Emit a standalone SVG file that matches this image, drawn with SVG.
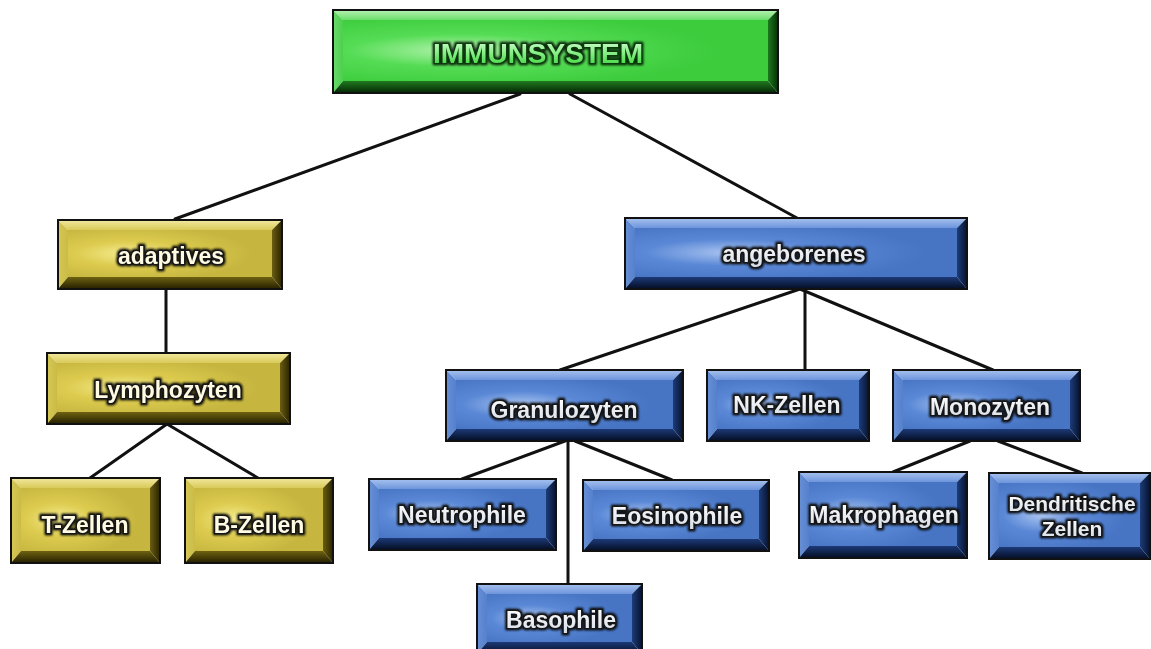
<svg xmlns="http://www.w3.org/2000/svg" width="1151" height="649" viewBox="0 0 1151 649">
<defs>
<radialGradient id="gFace" cx="0.28" cy="0.5" r="0.6"><stop offset="0" stop-color="#b6f4b0"/><stop offset="0.45" stop-color="#55dc55"/><stop offset="1" stop-color="#3ccc3c"/></radialGradient>
<linearGradient id="gTop" x1="0" y1="0" x2="0" y2="1"><stop offset="0" stop-color="#b8f2b4"/><stop offset="1" stop-color="#6ade6a"/></linearGradient>
<linearGradient id="gBot" x1="0" y1="0" x2="0" y2="1"><stop offset="0" stop-color="#1f7a1f"/><stop offset="1" stop-color="#052605"/></linearGradient>
<linearGradient id="gLeft" x1="0" y1="0" x2="1" y2="0"><stop offset="0" stop-color="#6bd86b"/><stop offset="1" stop-color="#4cd04c"/></linearGradient>
<linearGradient id="gRight" x1="0" y1="0" x2="1" y2="0"><stop offset="0" stop-color="#1c7a1c"/><stop offset="1" stop-color="#073007"/></linearGradient>
<linearGradient id="gTxt" x1="0" y1="0" x2="0" y2="1"><stop offset="0" stop-color="#dcffdc"/><stop offset="0.45" stop-color="#8cf08c"/><stop offset="1" stop-color="#2fd02f"/></linearGradient>

<radialGradient id="yFace" cx="0.3" cy="0.5" r="0.6"><stop offset="0" stop-color="#f6ec90"/><stop offset="0.45" stop-color="#dccb4e"/><stop offset="1" stop-color="#c6b640"/></radialGradient>
<linearGradient id="yTop" x1="0" y1="0" x2="0" y2="1"><stop offset="0" stop-color="#f2e9a0"/><stop offset="1" stop-color="#d9ca58"/></linearGradient>
<linearGradient id="yBot" x1="0" y1="0" x2="0" y2="1"><stop offset="0" stop-color="#6e6210"/><stop offset="1" stop-color="#241e00"/></linearGradient>
<linearGradient id="yLeft" x1="0" y1="0" x2="1" y2="0"><stop offset="0" stop-color="#d6c856"/><stop offset="1" stop-color="#cbbb46"/></linearGradient>
<linearGradient id="yRight" x1="0" y1="0" x2="1" y2="0"><stop offset="0" stop-color="#6a5e10"/><stop offset="1" stop-color="#2a2300"/></linearGradient>

<radialGradient id="bFace" cx="0.3" cy="0.5" r="0.6"><stop offset="0" stop-color="#aac4f0"/><stop offset="0.45" stop-color="#5a88d6"/><stop offset="1" stop-color="#4775c4"/></radialGradient>
<linearGradient id="bTop" x1="0" y1="0" x2="0" y2="1"><stop offset="0" stop-color="#a8c2ee"/><stop offset="1" stop-color="#6d95dc"/></linearGradient>
<linearGradient id="bBot" x1="0" y1="0" x2="0" y2="1"><stop offset="0" stop-color="#1c3a78"/><stop offset="1" stop-color="#040c22"/></linearGradient>
<linearGradient id="bLeft" x1="0" y1="0" x2="1" y2="0"><stop offset="0" stop-color="#6890d6"/><stop offset="1" stop-color="#5580cc"/></linearGradient>
<linearGradient id="bRight" x1="0" y1="0" x2="1" y2="0"><stop offset="0" stop-color="#1d3c7a"/><stop offset="1" stop-color="#06122e"/></linearGradient>
<linearGradient id="tTxt" x1="0" y1="0" x2="0" y2="1"><stop offset="0" stop-color="#ffffff"/><stop offset="1" stop-color="#d6dde8"/></linearGradient>
<filter id="glow" x="-10%" y="-40%" width="120%" height="180%">
<feMorphology in="SourceAlpha" operator="dilate" radius="1.2" result="d"/>
<feGaussianBlur in="d" stdDeviation="1.3" result="b"/>
<feFlood flood-color="#000" flood-opacity="0.85"/>
<feComposite in2="b" operator="in" result="s"/>
<feMerge><feMergeNode in="s"/><feMergeNode in="SourceGraphic"/></feMerge>
</filter>
</defs>
<style>
.edge{stroke:#111;stroke-width:3;fill:none;stroke-linecap:round}
.bd{fill:none;stroke:#111;stroke-width:2}
.g .top{fill:url(#gTop)}.g .bot{fill:url(#gBot)}.g .lf{fill:url(#gLeft)}.g .rt{fill:url(#gRight)}.g .face{fill:url(#gFace)}
.y .top{fill:url(#yTop)}.y .bot{fill:url(#yBot)}.y .lf{fill:url(#yLeft)}.y .rt{fill:url(#yRight)}.y .face{fill:url(#yFace)}
.b .top{fill:url(#bTop)}.b .bot{fill:url(#bBot)}.b .lf{fill:url(#bLeft)}.b .rt{fill:url(#bRight)}.b .face{fill:url(#bFace)}
text{font-family:"Liberation Sans",Arial,sans-serif;font-weight:bold;text-anchor:middle;paint-order:stroke;stroke-linejoin:round;filter:url(#glow)}
.lbl{font-size:23px;fill:url(#tTxt);stroke:#141414;stroke-width:3}
.y .lbl{fill:#fffbe2}
.sm{font-size:21px}
.ttl{font-size:28px;fill:url(#gTxt);stroke:#0a3a0a;stroke-width:2.5}
</style>

<g id="connectors">
<line class="edge" x1="520" y1="94" x2="175" y2="219"/>
<line class="edge" x1="570" y1="94" x2="797" y2="218"/>
<line class="edge" x1="166" y1="289" x2="166" y2="353"/>
<line class="edge" x1="167" y1="424" x2="90" y2="478"/>
<line class="edge" x1="167" y1="424" x2="258" y2="478"/>
<line class="edge" x1="800" y1="289" x2="560" y2="370"/>
<line class="edge" x1="805" y1="289" x2="805" y2="370"/>
<line class="edge" x1="800" y1="289" x2="993" y2="370"/>
<line class="edge" x1="565" y1="441" x2="462" y2="479"/>
<line class="edge" x1="575" y1="441" x2="672" y2="480"/>
<line class="edge" x1="568" y1="441" x2="568" y2="584"/>
<line class="edge" x1="970" y1="441" x2="893" y2="472"/>
<line class="edge" x1="998" y1="441" x2="1082" y2="473"/>
</g>

<g id="immunsystem" class="g">
<polygon class="top" points="333,10 778,10 768,20 343,20"/>
<polygon class="lf" points="333,10 343,20 343,81 333,93"/>
<polygon class="bot" points="333,93 343,81 768,81 778,93"/>
<polygon class="rt" points="778,10 778,93 768,81 768,20"/>
<rect class="face" x="343" y="20" width="425" height="61"/>
<rect class="bd" x="333" y="10" width="445" height="83"/>
<text class="ttl" x="538" y="63">IMMUNSYSTEM</text>
</g>

<g id="adaptives" class="y">
<polygon class="top" points="58,220 282,220 272,230 68,230"/>
<polygon class="lf" points="58,220 68,230 68,277 58,289"/>
<polygon class="bot" points="58,289 68,277 272,277 282,289"/>
<polygon class="rt" points="282,220 282,289 272,277 272,230"/>
<rect class="face" x="68" y="230" width="204" height="47"/>
<rect class="bd" x="58" y="220" width="224" height="69"/>
<text class="lbl" x="171" y="264">adaptives</text>
</g>

<g id="angeborenes" class="b">
<polygon class="top" points="625,218 967,218 957,228 635,228"/>
<polygon class="lf" points="625,218 635,228 635,277 625,289"/>
<polygon class="bot" points="625,289 635,277 957,277 967,289"/>
<polygon class="rt" points="967,218 967,289 957,277 957,228"/>
<rect class="face" x="635" y="228" width="322" height="49"/>
<rect class="bd" x="625" y="218" width="342" height="71"/>
<text class="lbl" x="794" y="262">angeborenes</text>
</g>

<g id="lymphozyten" class="y">
<polygon class="top" points="47,353 290,353 280,363 57,363"/>
<polygon class="lf" points="47,353 57,363 57,412 47,424"/>
<polygon class="bot" points="47,424 57,412 280,412 290,424"/>
<polygon class="rt" points="290,353 290,424 280,412 280,363"/>
<rect class="face" x="57" y="363" width="223" height="49"/>
<rect class="bd" x="47" y="353" width="243" height="71"/>
<text class="lbl" x="168" y="398">Lymphozyten</text>
</g>

<g id="t-zellen" class="y">
<polygon class="top" points="11,478 160,478 150,488 21,488"/>
<polygon class="lf" points="11,478 21,488 21,551 11,563"/>
<polygon class="bot" points="11,563 21,551 150,551 160,563"/>
<polygon class="rt" points="160,478 160,563 150,551 150,488"/>
<rect class="face" x="21" y="488" width="129" height="63"/>
<rect class="bd" x="11" y="478" width="149" height="85"/>
<text class="lbl" x="85" y="533">T-Zellen</text>
</g>

<g id="b-zellen" class="y">
<polygon class="top" points="185,478 333,478 323,488 195,488"/>
<polygon class="lf" points="185,478 195,488 195,551 185,563"/>
<polygon class="bot" points="185,563 195,551 323,551 333,563"/>
<polygon class="rt" points="333,478 333,563 323,551 323,488"/>
<rect class="face" x="195" y="488" width="128" height="63"/>
<rect class="bd" x="185" y="478" width="148" height="85"/>
<text class="lbl" x="259" y="533">B-Zellen</text>
</g>

<g id="granulozyten" class="b">
<polygon class="top" points="446,370 683,370 673,380 456,380"/>
<polygon class="lf" points="446,370 456,380 456,429 446,441"/>
<polygon class="bot" points="446,441 456,429 673,429 683,441"/>
<polygon class="rt" points="683,370 683,441 673,429 673,380"/>
<rect class="face" x="456" y="380" width="217" height="49"/>
<rect class="bd" x="446" y="370" width="237" height="71"/>
<text class="lbl" x="564" y="418">Granulozyten</text>
</g>

<g id="nk-zellen" class="b">
<polygon class="top" points="707,370 869,370 859,380 717,380"/>
<polygon class="lf" points="707,370 717,380 717,429 707,441"/>
<polygon class="bot" points="707,441 717,429 859,429 869,441"/>
<polygon class="rt" points="869,370 869,441 859,429 859,380"/>
<rect class="face" x="717" y="380" width="142" height="49"/>
<rect class="bd" x="707" y="370" width="162" height="71"/>
<text class="lbl" x="787" y="413">NK-Zellen</text>
</g>

<g id="monozyten" class="b">
<polygon class="top" points="893,370 1080,370 1070,380 903,380"/>
<polygon class="lf" points="893,370 903,380 903,429 893,441"/>
<polygon class="bot" points="893,441 903,429 1070,429 1080,441"/>
<polygon class="rt" points="1080,370 1080,441 1070,429 1070,380"/>
<rect class="face" x="903" y="380" width="167" height="49"/>
<rect class="bd" x="893" y="370" width="187" height="71"/>
<text class="lbl" x="990" y="415">Monozyten</text>
</g>

<g id="neutrophile" class="b">
<polygon class="top" points="369,479 556,479 546,489 379,489"/>
<polygon class="lf" points="369,479 379,489 379,538 369,550"/>
<polygon class="bot" points="369,550 379,538 546,538 556,550"/>
<polygon class="rt" points="556,479 556,550 546,538 546,489"/>
<rect class="face" x="379" y="489" width="167" height="49"/>
<rect class="bd" x="369" y="479" width="187" height="71"/>
<text class="lbl" x="462" y="523">Neutrophile</text>
</g>

<g id="eosinophile" class="b">
<polygon class="top" points="583,480 769,480 759,490 593,490"/>
<polygon class="lf" points="583,480 593,490 593,539 583,551"/>
<polygon class="bot" points="583,551 593,539 759,539 769,551"/>
<polygon class="rt" points="769,480 769,551 759,539 759,490"/>
<rect class="face" x="593" y="490" width="166" height="49"/>
<rect class="bd" x="583" y="480" width="186" height="71"/>
<text class="lbl" x="677" y="524">Eosinophile</text>
</g>

<g id="basophile" class="b">
<polygon class="top" points="477,584 642,584 632,594 487,594"/>
<polygon class="lf" points="477,584 487,594 487,642 477,654"/>
<polygon class="bot" points="477,654 487,642 632,642 642,654"/>
<polygon class="rt" points="642,584 642,654 632,642 632,594"/>
<rect class="face" x="487" y="594" width="145" height="48"/>
<rect class="bd" x="477" y="584" width="165" height="70"/>
<text class="lbl" x="561" y="628">Basophile</text>
</g>

<g id="makrophagen" class="b">
<polygon class="top" points="799,472 967,472 957,482 809,482"/>
<polygon class="lf" points="799,472 809,482 809,546 799,558"/>
<polygon class="bot" points="799,558 809,546 957,546 967,558"/>
<polygon class="rt" points="967,472 967,558 957,546 957,482"/>
<rect class="face" x="809" y="482" width="148" height="64"/>
<rect class="bd" x="799" y="472" width="168" height="86"/>
<text class="lbl" x="884" y="523">Makrophagen</text>
</g>

<g id="dendritische-zellen" class="b">
<polygon class="top" points="989,473 1150,473 1140,483 999,483"/>
<polygon class="lf" points="989,473 999,483 999,547 989,559"/>
<polygon class="bot" points="989,559 999,547 1140,547 1150,559"/>
<polygon class="rt" points="1150,473 1150,559 1140,547 1140,483"/>
<rect class="face" x="999" y="483" width="141" height="64"/>
<rect class="bd" x="989" y="473" width="161" height="86"/>
<text class="lbl sm" x="1072" y="511">Dendritische</text>
<text class="lbl sm" x="1072" y="536">Zellen</text>
</g>
</svg>
